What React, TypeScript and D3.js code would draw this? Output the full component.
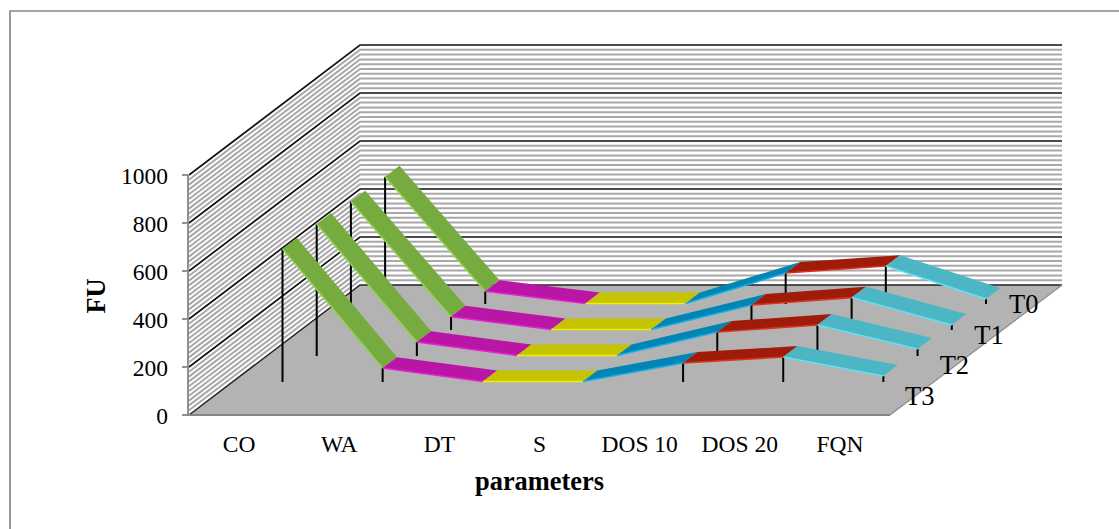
import React from 'react';
import * as d3 from 'd3';

const categories = ['CO', 'WA', 'DT', 'S', 'DOS 10', 'DOS 20', 'FQN'];
const seriesNames = ['T0', 'T1', 'T2', 'T3'];
const t0Values = [530, 53, 2, 2, 129, 158, 21];
const t1Values = [535, 55, 2, 2, 104, 135, 21];
const t2Values = [550, 58, 2, 2, 100, 129, 29];
const t3Values = [555, 58, 2, 2, 79, 104, 25];
const seriesValues = [t0Values, t1Values, t2Values, t3Values];
const yTicks = [0, 200, 400, 600, 800, 1000];
// one colour per segment, "vary colours by point"
const segmentColors = ['#76AB3F', '#B916A6', '#C6C300', '#0085B5', '#A01C0A', '#4DB6C5'];
const segmentEdges = ['#8FD14F', '#EA1FD2', '#F2F000', '#12B0EA', '#DC3219', '#5FE2F2'];

const WIDTH = 1119;
const HEIGHT = 529;
const FRONT_LEFT = 189;
const FRONT_RIGHT = 890;
const FRONT_Y = 415;
const DEPTH_X = 171;
const DEPTH_Y = -130;
const FONT = '"Liberation Serif", serif';

const xScale = d3.scaleBand<string>().domain(categories).range([FRONT_LEFT, FRONT_RIGHT]);
const yScale = d3.scaleLinear().domain([0, 1000]).range([0, -240]);
// fraction of the floor depth, T3 sits nearest to the viewer
const depthScale = d3.scalePoint<string>().domain(['T3', 'T2', 'T1', 'T0']).range([0.254, 0.854]);
const RIBBON_DEPTH = 0.084;
// the depth labels do not follow the floor edge exactly
const depthLabelX = d3.scalePoint<string>().domain(['T3', 'T2', 'T1', 'T0']).range([905, 1009]);
const depthLabelY = d3.scalePoint<string>().domain(['T3', 'T2', 'T1', 'T0']).range([405, 313]);

const project = (cat: string, depth: number, value: number): [number, number] => [
    (xScale(cat) as number) + xScale.bandwidth() / 2 + depth * DEPTH_X,
    FRONT_Y + depth * DEPTH_Y + yScale(value),
];

const polyLine = d3.line();

const App: React.FC = () => {
    const minorTicks = yScale.ticks(50);
    const wallLeft = FRONT_LEFT + DEPTH_X;
    const wallRight = FRONT_RIGHT + DEPTH_X + 1;
    const backY = FRONT_Y + DEPTH_Y;

    const grid = (v: number, color: string, w: number) => (
        <path
            key={`${color}-${v}`}
            d={polyLine([[FRONT_LEFT, FRONT_Y + yScale(v)], [wallLeft, backY + yScale(v)], [wallRight, backY + yScale(v)]]) as string}
            fill="none"
            stroke={color}
            strokeWidth={w}
        />
    );

    return (
        <svg
            width={WIDTH}
            height={HEIGHT}
            style={{position: 'absolute', left: 0, top: 0, background: 'white'}}
            fontFamily={FONT}
        >
            <path d="M10,529V11H1119" fill="none" stroke="#888" strokeWidth={1.7} />

            {minorTicks.filter(v => v % 200 !== 0).map(v => grid(v, '#a8a8a8', 2))}
            {yTicks.filter(v => v > 0).map(v => grid(v, '#111', 1.7))}

            <path
                d={polyLine([[FRONT_LEFT, FRONT_Y], [FRONT_RIGHT, FRONT_Y], [wallRight, backY], [wallLeft, backY]]) + 'Z'}
                fill="#B3B3B3"
            />
            <path d={polyLine([[FRONT_LEFT, FRONT_Y], [wallLeft, backY], [wallRight, backY]]) as string} fill="none" stroke="#222" strokeWidth={1.5} />
            <path d={polyLine([[FRONT_RIGHT, FRONT_Y], [wallRight, backY]]) as string} fill="none" stroke="#8c8c8c" strokeWidth={1.2} />

            <path d={polyLine([[FRONT_LEFT - 1, FRONT_Y + yScale(1000)], [FRONT_LEFT - 1, FRONT_Y], [FRONT_RIGHT, FRONT_Y]]) as string} fill="none" stroke="#868686" strokeWidth={1.8} />
            {yTicks.map(v => (
                <g key={v}>
                    <line x1={FRONT_LEFT - 7} x2={FRONT_LEFT - 1} y1={FRONT_Y + yScale(v)} y2={FRONT_Y + yScale(v)} stroke="#868686" strokeWidth={1.8} />
                    <text x={168} y={FRONT_Y + yScale(v) + 9} textAnchor="end" fontSize={23.5} fill="#000">{v}</text>
                </g>
            ))}

            {seriesNames.map((name, si) => {
                const depth = depthScale(name) as number;
                const values = seriesValues[si];
                return (
                    <g key={name}>
                        {categories.map((cat, i) => {
                            const top = project(cat, depth, values[i]);
                            const base = project(cat, depth, 0);
                            return <line key={cat} x1={top[0]} x2={base[0]} y1={top[1]} y2={base[1]} stroke="#000" strokeWidth={2} />;
                        })}
                        {categories.slice(0, -1).map((cat, i) => {
                            const next = categories[i + 1];
                            const a = project(cat, depth, values[i]);
                            const b = project(next, depth, values[i + 1]);
                            const c = project(next, depth + RIBBON_DEPTH, values[i + 1]);
                            const d = project(cat, depth + RIBBON_DEPTH, values[i]);
                            return (
                                <g key={cat}>
                                    <path d={polyLine([a, b, c, d]) + 'Z'} fill={segmentColors[i]} />
                                    <path d={polyLine([a, b]) as string} fill="none" stroke={segmentEdges[i]} strokeWidth={1.6} />
                                </g>
                            );
                        })}
                    </g>
                );
            })}

            {categories.map(cat => (
                <text key={cat} x={(xScale(cat) as number) + xScale.bandwidth() / 2} y={452} textAnchor="middle" fontSize={23.5} fill="#000">{cat}</text>
            ))}
            {seriesNames.map(name => (
                <text key={name} x={depthLabelX(name)} y={depthLabelY(name)} fontSize={26.5} fill="#000">{name}</text>
            ))}

            <text x={539.5} y={490} textAnchor="middle" fontSize={26.4} fontWeight="bold" fill="#000">parameters</text>
            <text transform="translate(105,296) rotate(-90)" textAnchor="middle" fontSize={26.4} fontWeight="bold" fill="#000">FU</text>
        </svg>
    );
};

export default App;
